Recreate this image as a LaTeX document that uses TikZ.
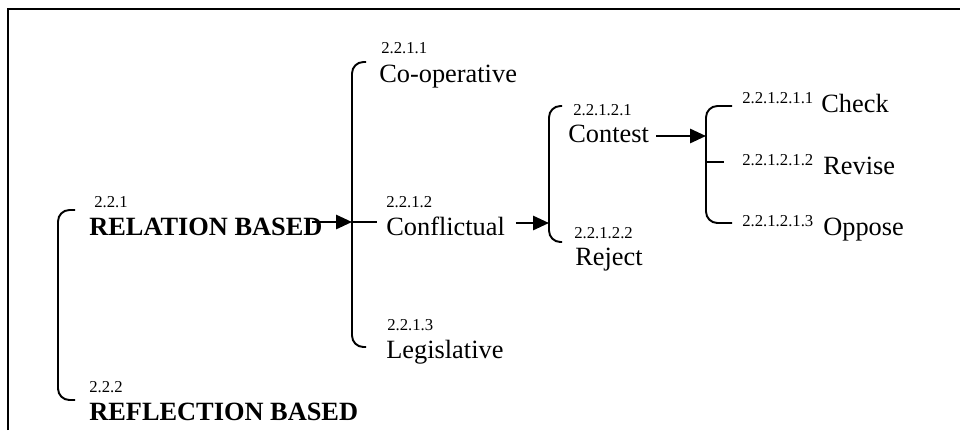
\documentclass[tikz,border=0pt]{standalone}
\usepackage{fontspec}
\setmainfont{Liberation Serif}
\usepackage{tikz}
\usetikzlibrary{positioning,arrows.meta}

\begin{document}
\begin{tikzpicture}[x=0.02cm, y=-0.02cm,
        lbl/.style={inner sep=0, anchor=base west, font=\fontsize{15}{18}\selectfont},
        num/.style={inner sep=0, anchor=base west, font=\fontsize{9.5}{11}\selectfont},
        brace/.style={line width=1.1pt, rounded corners=6.5pt},
        arr/.style={line width=1.3pt, -{Triangle[length=9pt, width=8pt]}}]
        \useasboundingbox (0,0) rectangle (960,430);

        % frame
        \draw[line width=1.3pt] (8,430) -- (8,9) -- (960,9);

        % first level
        \node[num] (n221) at (94,207) {2.2.1};
        \node[lbl, font=\fontsize{15}{18}\selectfont\bfseries] (rel) at (89,235) {RELATION BASED};
        \node[num] (n222) at (89,392) {2.2.2};
        \node[lbl, font=\fontsize{15}{18}\selectfont\bfseries] (refl) at (89,420) {REFLECTION BASED};
        \draw[brace] (75,210) -- (58,210) -- (58,400) -- (75,400);

        % relation based
        \node[num] (n2211) at (381,53) {2.2.1.1};
        \node[lbl] (coop) at (379,82) {Co-operative};
        \node[num] (n2212) at (386,207) {2.2.1.2};
        \node[lbl] (confl) at (386,235) {Conflictual};
        \node[num] (n2213) at (387,330) {2.2.1.3};
        \node[lbl] (legis) at (386,358) {Legislative};
        \draw[brace] (366,62) -- (352,62) -- (352,347) -- (366,347);
        \coordinate (b2) at (352,222);
        \draw[arr] ([xshift=-6pt]rel.east |- b2) -- (b2);
        \draw[line width=1.1pt] (b2) -- ([xshift=-5pt]confl.west |- b2);

        % conflictual
        \node[num] (n22121) at (573,115) {2.2.1.2.1};
        \node[lbl] (contest) at (568,142) {Contest};
        \node[num] (n22122) at (574,238) {2.2.1.2.2};
        \node[lbl] (reject) at (575,265) {Reject};
        \draw[brace] (562,106) -- (549,106) -- (549,242) -- (562,242);
        \coordinate (b3) at (549,223);
        \draw[arr] ([xshift=6pt]confl.east |- b3) -- (b3);

        % contest
        \node[num] (n221211) at (742,103) {2.2.1.2.1.1};
        \node[lbl] (check) at (821,112) {Check};
        \node[num] (n221212) at (742,165) {2.2.1.2.1.2};
        \node[lbl] (revise) at (823,174) {Revise};
        \node[num] (n221213) at (742,226) {2.2.1.2.1.3};
        \node[lbl] (oppose) at (823,235) {Oppose};
        \draw[brace] (732,106) -- (706,106) -- (706,223) -- (732,223);
        \draw[line width=1.1pt] (706,162) -- (724,162);
        \coordinate (b4) at (706,136);
        \draw[arr] ([xshift=4pt]contest.east |- b4) -- (b4);
    \end{tikzpicture}
\end{document}
